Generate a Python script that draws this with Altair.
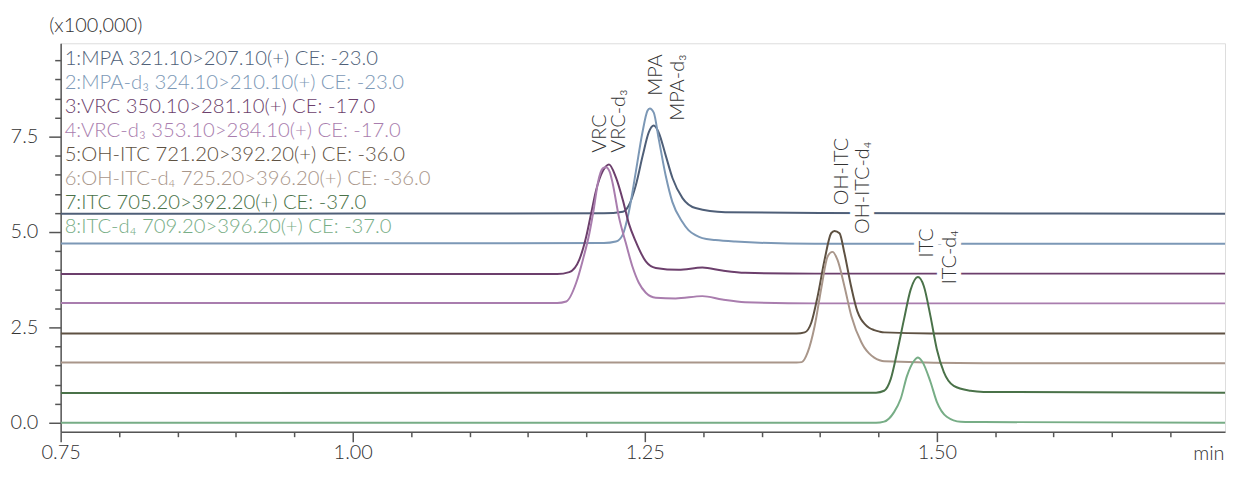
import altair as alt
import pandas as pd

# ---------------- data ----------------
series_names = ["MPA", "MPA-d3", "VRC", "VRC-d3", "OH-ITC", "OH-ITC-d4", "ITC", "ITC-d4"]
series_colors = ["#4f5f78", "#7c98b6", "#6c3f6c", "#a97dae", "#5e5142", "#a9968a", "#4a7249", "#77ad86"]
legend_labels = [
    "1:MPA 321.10>207.10(+) CE: -23.0",
    "2:MPA-d\u2083 324.10>210.10(+) CE: -23.0",
    "3:VRC 350.10>281.10(+) CE: -17.0",
    "4:VRC-d\u2083 353.10>284.10(+) CE: -17.0",
    "5:OH-ITC 721.20>392.20(+) CE: -36.0",
    "6:OH-ITC-d\u2084 725.20>396.20(+) CE: -36.0",
    "7:ITC 705.20>392.20(+) CE: -37.0",
    "8:ITC-d\u2084 709.20>396.20(+) CE: -37.0",
]

mpa_t = [0.75, 1.215, 1.2313, 1.2364, 1.2423, 1.2483, 1.2534, 1.2577, 1.2619, 1.2679, 1.2738, 1.2823, 1.2934, 1.3189, 1.40, 1.7467]
mpa_y = [5.48, 5.49, 5.53, 5.70, 6.22, 7.01, 7.61, 7.79, 7.61, 7.01, 6.41, 5.89, 5.63, 5.52, 5.50, 5.48]

mpad3_t = [0.75, 1.215, 1.2253, 1.2310, 1.2364, 1.2423, 1.2480, 1.2523, 1.2543, 1.2577, 1.2619, 1.2679, 1.2736, 1.2821, 1.2874, 1.2934, 1.2993, 1.3104, 1.3274, 1.3954, 1.7467]
mpad3_y = [4.70, 4.71, 4.75, 4.92, 5.53, 6.57, 7.61, 8.18, 8.24, 8.13, 7.45, 6.48, 5.79, 5.27, 5.05, 4.92, 4.84, 4.79, 4.75, 4.69, 4.69]

vrc_t = [0.75, 1.175, 1.1854, 1.1939, 1.1998, 1.2041, 1.2083, 1.2143, 1.2194, 1.2253, 1.2313, 1.2364, 1.2423, 1.2509, 1.2594, 1.2789, 1.2993, 1.3163, 1.3359, 1.3954, 1.7467]
vrc_y = [3.90, 3.90, 3.95, 4.27, 4.87, 5.49, 6.09, 6.61, 6.77, 6.43, 5.83, 5.22, 4.75, 4.23, 4.06, 4.01, 4.07, 3.99, 3.93, 3.91, 3.91]

vrcd3_t = [0.75, 1.175, 1.1828, 1.1913, 1.1970, 1.2026, 1.2066, 1.2098, 1.2140, 1.2168, 1.2200, 1.2225, 1.2279, 1.2338, 1.2395, 1.2449, 1.2509, 1.2594, 1.2764, 1.2993, 1.3163, 1.3359, 1.3954, 1.7467]
vrcd3_y = [3.14, 3.14, 3.18, 3.67, 4.27, 4.97, 5.65, 6.28, 6.67, 6.70, 6.58, 6.28, 5.39, 4.71, 4.09, 3.67, 3.41, 3.28, 3.26, 3.32, 3.23, 3.16, 3.13, 3.13]

ohitc_t = [0.75, 1.380, 1.3869, 1.3926, 1.3980, 1.4039, 1.4096, 1.4124, 1.4167, 1.4209, 1.4266, 1.4320, 1.4350, 1.4380, 1.4420, 1.4464, 1.4510, 1.4549, 1.4949, 1.7467]
ohitc_y = [2.34, 2.34, 2.37, 2.63, 3.32, 4.27, 4.97, 5.03, 4.97, 4.45, 3.58, 2.92, 2.72, 2.60, 2.49, 2.43, 2.39, 2.37, 2.34, 2.34]

ohitcd4_t = [0.75, 1.380, 1.3844, 1.3895, 1.3954, 1.4014, 1.4065, 1.4107, 1.4150, 1.4209, 1.4269, 1.4354, 1.4380, 1.4420, 1.4464, 1.4510, 1.4549, 1.5400, 1.7467]
ohitcd4_y = [1.58, 1.58, 1.59, 1.85, 2.53, 3.58, 4.36, 4.48, 4.27, 3.58, 2.79, 2.11, 1.97, 1.82, 1.71, 1.64, 1.61, 1.56, 1.56]

itc_t = [0.75, 1.448, 1.4549, 1.4606, 1.4660, 1.4719, 1.4776, 1.4838, 1.4889, 1.4946, 1.5000, 1.5060, 1.5145, 1.5289, 1.5400, 1.7467]
itc_y = [0.78, 0.79, 0.84, 1.15, 1.85, 2.71, 3.49, 3.82, 3.58, 2.79, 1.93, 1.33, 0.97, 0.84, 0.81, 0.79]

itcd4_t = [0.75, 1.448, 1.4549, 1.4634, 1.4691, 1.4745, 1.4804, 1.4838, 1.4872, 1.4946, 1.5000, 1.5085, 1.5204, 1.5400, 1.7467]
itcd4_y = [0.0, 0.0, 0.03, 0.28, 0.63, 1.23, 1.62, 1.71, 1.62, 1.07, 0.55, 0.16, 0.03, 0.02, 0.0]

peak_labels = ["VRC", "VRC-d\u2083", "MPA", "MPA-d\u2083", "OH-ITC", "OH-ITC-d\u2084", "ITC", "ITC-d\u2084"]
peak_label_t = [1.2066, 1.2228, 1.2543, 1.2730, 1.4141, 1.4320, 1.4864, 1.5060]
peak_label_y = [7.08, 7.08, 9.66, 9.66, 7.47, 7.37, 5.10, 5.05]
peak_label_anchor = ["start", "start", "end", "end", "end", "end", "end", "end"]

x_ticks = [0.75, 0.80, 0.85, 0.90, 0.95, 1.00, 1.05, 1.10, 1.15, 1.20, 1.25, 1.30,
           1.35, 1.40, 1.45, 1.50, 1.55, 1.60, 1.65, 1.70]
y_ticks = [0.0, 0.5, 1.0, 1.5, 2.0, 2.5, 3.0, 3.5, 4.0, 4.5, 5.0, 5.5, 6.0, 6.5,
           7.0, 7.5, 8.0, 8.5, 9.0, 9.5]

# ---------------- tables ----------------
traces = [
    ("MPA", mpa_t, mpa_y), ("MPA-d3", mpad3_t, mpad3_y),
    ("VRC", vrc_t, vrc_y), ("VRC-d3", vrcd3_t, vrcd3_y),
    ("OH-ITC", ohitc_t, ohitc_y), ("OH-ITC-d4", ohitcd4_t, ohitcd4_y),
    ("ITC", itc_t, itc_y), ("ITC-d4", itcd4_t, itcd4_y),
]
rows = []
for name, ts, vs in traces:
    for t, v in zip(ts, vs):
        rows.append({"series": name, "t": t, "v": v})
trace_df = pd.DataFrame(rows)

legend_df = pd.DataFrame({"series": series_names, "label": legend_labels})
peaks_df = pd.DataFrame({"label": peak_labels, "t": peak_label_t, "v": peak_label_y,
                         "anchor": peak_label_anchor})

FONT = "Lato"
FW = 300
TXT = "#333333"
AX = "#555555"
PLOT_W = 1172
PLOT_H = 391

color_scale = alt.Scale(domain=series_names, range=series_colors)

x_major = "abs(datum.value*4 - round(datum.value*4)) < 1e-6"
x_enc = alt.X(
    "t:Q",
    scale=alt.Scale(domain=[0.75, 1.7467], nice=False, zero=False),
    axis=alt.Axis(
        values=x_ticks, grid=False, labelOverlap=False, labelFlush=False,
        labelExpr=f"{x_major} ? format(datum.value, '.2f') : ''",
        tickSize={"condition": {"test": x_major, "value": 10}, "value": 5},
        labelFontSize=20, labelColor=TXT, labelPadding=1, labelFont=FONT, labelFontWeight=FW,
        domainColor=AX, domainWidth=1.5, tickColor=AX, tickWidth=1.5,
        title="min", titleFont=FONT, titleFontSize=20, titleFontWeight=FW, titleColor=TXT,
        titleX=PLOT_W - 1, titleY=28, titleAlign="right", titleBaseline="alphabetic", titleAngle=0,
    ),
)
y_major = "datum.value % 2.5 === 0"
y_enc = alt.Y(
    "v:Q",
    scale=alt.Scale(domain=[-0.234, 9.948], nice=False, zero=False),
    axis=alt.Axis(
        values=y_ticks, grid=False, labelOverlap=False, labelFlush=False,
        labelExpr=f"{y_major} ? format(datum.value, '.1f') : ''",
        tickSize={"condition": {"test": y_major, "value": 12}, "value": 6},
        labelFontSize=20, labelColor=TXT, labelPadding=11, labelFont=FONT, labelFontWeight=FW,
        domainColor=AX, domainWidth=1.5, tickColor=AX, tickWidth=1.5,
        title="(x100,000)", titleFont=FONT, titleFontSize=20, titleFontWeight=FW, titleColor=TXT,
        titleX=-12, titleY=-12, titleAlign="left", titleBaseline="alphabetic", titleAngle=0,
    ),
)

lines = alt.Chart(trace_df).mark_line(interpolate="monotone", strokeWidth=2, clip=True).encode(
    x=x_enc, y=y_enc,
    color=alt.Color("series:N", scale=color_scale, legend=None),
)

def peak_layer(anchor, halo):
    align = "left" if anchor == "start" else "right"
    props = dict(angle=270, align=align, baseline="middle", fontSize=20, font=FONT,
                 fontWeight=FW, dy=6)
    if halo:
        props.update(fill="white", stroke="white", strokeWidth=10)
    else:
        props.update(fill=TXT)
    return alt.Chart(peaks_df).transform_filter(
        f"datum.anchor == '{anchor}'"
    ).mark_text(**props).encode(x=x_enc, y=y_enc, text="label:N")

legend = alt.Chart(legend_df).transform_window(
    idx="row_number()"
).transform_calculate(
    py="22 + 24.15 * (datum.idx - 1)"
).mark_text(align="left", baseline="alphabetic", fontSize=20.4, font=FONT, fontWeight=FW).encode(
    x=alt.value(4),
    y=alt.Y("py:Q", scale=None, axis=None),
    text="label:N",
    color=alt.Color("series:N", scale=color_scale, legend=None),
)

chart = alt.layer(
    lines,
    peak_layer("start", True), peak_layer("end", True),
    peak_layer("start", False), peak_layer("end", False),
    legend,
).properties(
    width=PLOT_W, height=PLOT_H,
    autosize=alt.AutoSizeParams(type="none"),
    padding={"left": 53, "top": 34, "right": 3, "bottom": 31},
).configure_view(
    stroke=AX, strokeWidth=1.5
).configure(font=FONT, background="white")

chart.save("out.html", embed_options={"renderer": "svg", "actions": False})
